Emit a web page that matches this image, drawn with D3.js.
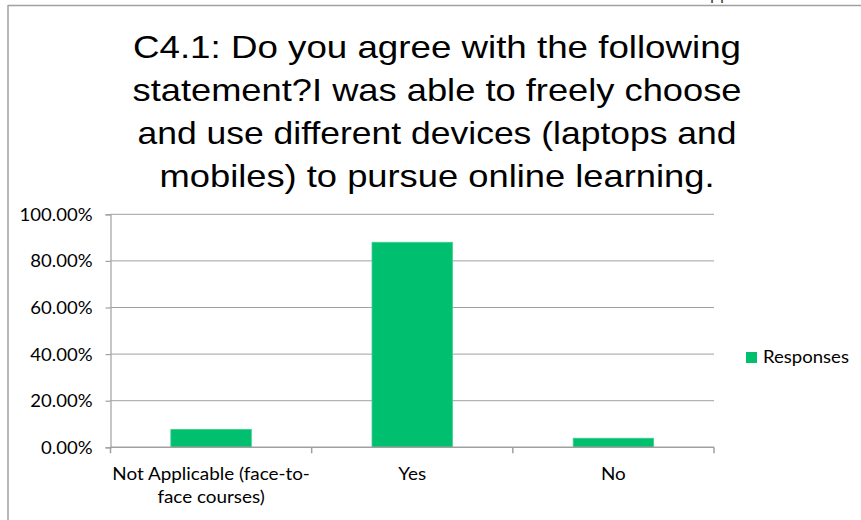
<!DOCTYPE html>
<html>
<head>
<meta charset="utf-8">
<script src="https://cdn.jsdelivr.net/npm/d3@7"></script>
<style>
  body { margin: 0; background: #fff; }
  svg { display: block; }
</style>
</head>
<body>
<div id="chart"></div>
<script>
const titleLines = [
  "C4.1: Do you agree with the following",
  "statement?I was able to freely choose",
  "and use different devices (laptops and",
  "mobiles) to pursue online learning."
];
const categories = ["Not Applicable (face-to-face courses)", "Yes", "No"];
const categoryLines = [["Not Applicable (face-to-", "face courses)"], ["Yes"], ["No"]];
const responses = [0.077, 0.88, 0.039];
const yTicks = [0, 0.2, 0.4, 0.6, 0.8, 1.0];
const seriesName = "Responses";

const width = 861, height = 520;
const margin = { left: 110.5, right: 147, top: 214.3, bottom: 72.7 };
const labelFont = "Lato, 'Open Sans', sans-serif";

const svg = d3.select("#chart").append("svg")
    .attr("width", width)
    .attr("height", height);

// widen a text element a bit, the source font is set wider than Lato
function stretch(sel, k) {
    sel.each(function () {
        const w = this.getComputedTextLength();
        d3.select(this).attr("textLength", w * k).attr("lengthAdjust", "spacingAndGlyphs");
    });
}

// chart frame (only top and left edges visible)
svg.append("line").attr("x1", 8).attr("x2", width).attr("y1", 5.5).attr("y2", 5.5)
    .attr("stroke", "#a0a0a0").attr("stroke-width", 1.5);
svg.append("line").attr("x1", 8).attr("x2", 8).attr("y1", 5).attr("y2", height)
    .attr("stroke", "#a0a0a0").attr("stroke-width", 1.5);

// bit of slide text cut off above the frame
svg.append("text")
    .attr("x", 710).attr("y", -1)
    .attr("font-family", "Arial, 'Liberation Sans', sans-serif")
    .attr("font-size", 18)
    .attr("fill", "#444")
    .text("ppt");

// title
const titleWidths = [608, 609, 599, 555];
svg.append("g").selectAll("text")
    .data(titleLines)
    .enter().append("text")
    .attr("x", 437)
    .attr("y", (d, i) => 58 + i * 43)
    .attr("text-anchor", "middle")
    .attr("font-family", "Arial, 'Liberation Sans', sans-serif")
    .attr("font-size", 32)
    .attr("fill", "#000")
    .attr("textLength", (d, i) => titleWidths[i])
    .attr("lengthAdjust", "spacingAndGlyphs")
    .text(d => d);

const x = d3.scaleBand()
    .domain(categories)
    .range([margin.left, width - margin.right])
    .paddingInner(0.6)
    .paddingOuter(0.3);

const y = d3.scaleLinear()
    .domain([0, 1])
    .range([height - margin.bottom, margin.top]);

// gridlines
svg.append("g")
    .selectAll("line")
    .data(yTicks.slice(1))
    .enter().append("line")
    .attr("x1", margin.left)
    .attr("x2", width - margin.right)
    .attr("y1", d => y(d))
    .attr("y2", d => y(d))
    .attr("stroke", "#a0a0a0")
    .attr("stroke-width", 1);

// bars
svg.append("g")
    .selectAll("rect")
    .data(responses)
    .enter().append("rect")
    .attr("x", (d, i) => x(categories[i]))
    .attr("y", d => y(d))
    .attr("width", x.bandwidth())
    .attr("height", d => y(0) - y(d))
    .attr("fill", "#00bf6f")
    .attr("stroke", "#3fd08f")
    .attr("stroke-width", 0.8);

// y axis
const yAxis = svg.append("g")
    .attr("transform", `translate(${margin.left},0)`)
    .call(d3.axisLeft(y).tickValues(yTicks).tickFormat(d3.format(".2%")).tickSize(5).tickPadding(13));
yAxis.select(".domain").attr("stroke", "#a0a0a0").attr("stroke-width", 1.2);
yAxis.selectAll(".tick line").attr("stroke", "#a0a0a0").attr("stroke-width", 1.2);
yAxis.selectAll(".tick text")
    .attr("font-family", labelFont)
    .attr("font-size", 17)
    .attr("fill", "#000")
    .attr("dy", "0.35em")
    .call(stretch, 1.09);

// x axis
const boundaries = d3.range(categories.length + 1)
    .map(i => margin.left + i * (width - margin.right - margin.left) / categories.length);
const xAxis = svg.append("g");
xAxis.append("line")
    .attr("x1", margin.left).attr("x2", width - margin.right)
    .attr("y1", y(0)).attr("y2", y(0))
    .attr("stroke", "#a0a0a0").attr("stroke-width", 1.5);
xAxis.selectAll(".xtick")
    .data(boundaries)
    .enter().append("line")
    .attr("class", "xtick")
    .attr("x1", d => d).attr("x2", d => d)
    .attr("y1", y(0)).attr("y2", y(0) + 6)
    .attr("stroke", "#a0a0a0").attr("stroke-width", 1.5);

categories.forEach((d, i) => {
    categoryLines[i].forEach((line, j) => {
        xAxis.append("text")
            .attr("x", x(d) + x.bandwidth() / 2)
            .attr("y", y(0) + 33 + j * 23)
            .attr("text-anchor", "middle")
            .attr("font-family", labelFont)
            .attr("font-size", 17)
            .attr("fill", "#000")
            .text(line)
            .call(stretch, 1.11);
    });
});

// legend
const legend = svg.append("g").attr("transform", "translate(746,352)");
legend.append("rect")
    .attr("width", 11).attr("height", 11)
    .attr("fill", "#00bf6f");
legend.append("text")
    .attr("x", 17).attr("y", 11)
    .attr("font-family", labelFont)
    .attr("font-size", 18)
    .attr("fill", "#000")
    .text(seriesName)
    .call(stretch, 1.03);
</script>
</body>
</html>
